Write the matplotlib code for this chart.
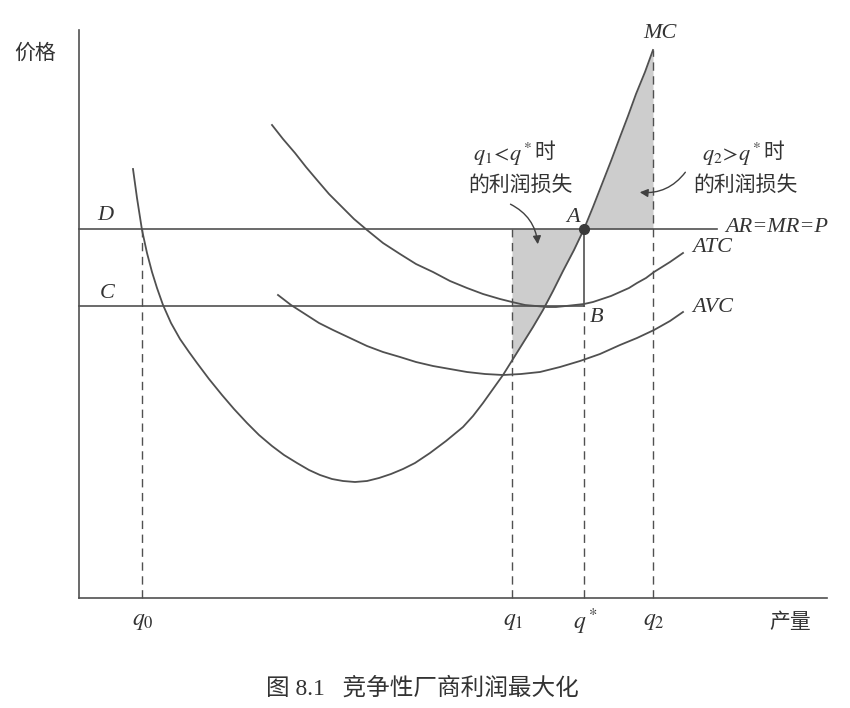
import matplotlib
matplotlib.use("Agg")
import matplotlib.pyplot as plt
import numpy as np

plt.rcParams["mathtext.fontset"] = "stix"
plt.rcParams["font.family"] = ["Liberation Serif", "Noto Sans CJK SC", "DejaVu Sans"]

# quantities on the horizontal axis
q0 = 6.3
q1 = 43.3
q_star = 50.5
q2 = 57.4
# price levels
price = 36.9      # AR = MR = P  (line D)
cost_c = 29.2     # line C (ATC at q*)

# marginal cost curve
mc_q = [5.4, 5.8, 6.3, 6.8, 7.3, 7.8, 8.4, 9.2, 10.1, 11.0, 11.8, 13.0, 14.3, 15.5,
        16.8, 18.0, 19.3, 20.5, 21.8, 23.0, 24.1, 25.3, 26.4, 27.6, 28.8, 30.0, 31.2,
        32.4, 33.6, 35.1, 36.7, 38.4, 39.4, 40.4, 41.4, 42.4, 43.4, 44.4, 45.4, 46.4,
        47.4, 48.4, 49.5, 50.5, 51.4, 52.3, 53.2, 54.1, 54.9, 55.7, 56.6, 57.4]
mc_p = [42.9, 40.0, 36.8, 34.5, 32.6, 31.0, 29.3, 27.5, 25.9, 24.6, 23.5, 21.9, 20.3,
        18.9, 17.5, 16.3, 15.2, 14.3, 13.5, 12.8, 12.3, 11.9, 11.7, 11.6, 11.7, 12.0,
        12.4, 12.9, 13.5, 14.5, 15.7, 17.1, 18.2, 19.5, 20.9, 22.3, 23.9, 25.5, 27.1,
        28.8, 30.7, 32.7, 34.8, 36.9, 39.1, 41.4, 43.7, 46.1, 48.2, 50.4, 52.6, 54.8]

# average total cost
atc_q = [19.3, 20.4, 21.6, 22.7, 23.8, 25.0, 26.3, 27.5, 28.8, 30.4, 32.1, 33.7, 35.4,
         37.1, 38.8, 40.4, 42.1, 43.3, 44.6, 45.7, 46.8, 47.7, 48.7, 49.6, 50.5, 51.4,
         52.3, 53.2, 54.1, 55.0, 55.8, 56.7, 57.5, 58.3, 59.1, 60.4]
atc_p = [47.3, 45.9, 44.5, 43.1, 41.8, 40.4, 39.1, 37.9, 36.8, 35.5, 34.4, 33.4, 32.6,
         31.7, 31.0, 30.4, 29.9, 29.6, 29.3, 29.2, 29.1, 29.1, 29.2, 29.3, 29.4, 29.6,
         29.9, 30.2, 30.6, 31.0, 31.5, 32.0, 32.6, 33.1, 33.6, 34.5]

# average variable cost
avc_q = [19.9, 21.2, 22.6, 24.0, 25.4, 27.1, 28.8, 30.4, 32.1, 33.7, 35.4, 37.1, 38.8,
         40.6, 42.4, 44.2, 46.1, 48.1, 50.1, 52.1, 54.1, 55.8, 57.5, 59.1, 60.4]
avc_p = [30.3, 29.3, 28.4, 27.5, 26.8, 26.0, 25.2, 24.6, 24.1, 23.6, 23.2, 22.9, 22.6,
         22.4, 22.3, 22.4, 22.6, 23.1, 23.7, 24.4, 25.3, 26.0, 26.8, 27.7, 28.6]

x_axis_end = 74.8
y_axis_top = 56.8
p_line_end = 63.8

LINE = "#505050"
TEXT = "#333333"
SHADE = "#cdcdcd"

fig = plt.figure(figsize=(8.5, 7.08), dpi=100)
ax = fig.add_axes([0, 0, 1, 1])
ax.set_xlim(-7.9, 77.1)
ax.set_ylim(-11.0, 59.8)
ax.axis("off")

mc_q_arr = np.array(mc_q)
mc_p_arr = np.array(mc_p)

# shaded profit losses
left = (mc_q_arr > q1) & (mc_q_arr <= q_star)
lq = np.concatenate([[q1], mc_q_arr[left]])
lp = np.concatenate([[np.interp(q1, mc_q_arr, mc_p_arr)], mc_p_arr[left]])
ax.fill_between(lq, lp, price, color=SHADE, lw=0, zorder=1)
right = (mc_q_arr >= q_star) & (mc_q_arr <= q2)
ax.fill_between(mc_q_arr[right], price, mc_p_arr[right], color=SHADE, lw=0, zorder=1)

# axes
ax.plot([0, 0], [0, y_axis_top], color=LINE, lw=1.2, zorder=3)
ax.plot([0, x_axis_end], [0, 0], color=LINE, lw=1.2, zorder=3)

# horizontal lines
ax.plot([0, p_line_end], [price, price], color=LINE, lw=1.2, zorder=3)
ax.plot([0, q_star], [cost_c, cost_c], color=LINE, lw=1.2, zorder=3)

# curves
ax.plot(mc_q, mc_p, color=LINE, lw=1.3, zorder=4)
ax.plot(atc_q, atc_p, color=LINE, lw=1.3, zorder=4)
ax.plot(avc_q, avc_p, color=LINE, lw=1.3, zorder=4)

# verticals
dash = dict(color=LINE, lw=1.0, linestyle=(0, (6, 4)), zorder=2)
ax.plot([q0, q0], [0, price], **dash)
ax.plot([q1, q1], [0, price], **dash)
ax.plot([q_star, q_star], [0, cost_c], **dash)
ax.plot([q2, q2], [0, mc_p[-1]], **dash)
ax.plot([q_star, q_star], [cost_c, price], color=LINE, lw=1.2, zorder=3)
ax.plot([q_star], [price], "o", color="#3a3a3a", ms=7, zorder=5)

# labels
ital = dict(fontsize=16, fontstyle="italic", color=TEXT, family="Liberation Serif")
cjk = dict(fontsize=15, color=TEXT, family="Noto Sans CJK SC")
ax.text(-4.4, 54.5, "价格", ha="center", va="center", **cjk)
ax.text(2.6, 38.3, "D", ha="center", va="center", **ital)
ax.text(2.8, 30.5, "C", ha="center", va="center", **ital)
ax.text(58.1, 56.5, "MC", ha="center", va="center", **ital)
ax.text(64.6, 37.0, "AR=MR=P", ha="left", va="center", **ital)
ax.text(61.3, 35.0, "ATC", ha="left", va="center", **ital)
ax.text(61.3, 29.1, "AVC", ha="left", va="center", **ital)
ax.text(49.4, 38.1, "A", ha="center", va="center", **ital)
ax.text(51.8, 28.0, "B", ha="center", va="center", **ital)

# annotations: math part and the Chinese character drawn side by side
ax.text(45.4, 44.4, "$q_1\\!<\\!q^*$", fontsize=16, color=TEXT, ha="right", va="center")
ax.text(45.5, 44.6, "时", ha="left", va="center", **cjk)
ax.text(44.1, 41.3, "的利润损失", ha="center", va="center", **cjk)
ax.text(68.3, 44.4, "$q_2\\!>\\!q^*$", fontsize=16, color=TEXT, ha="right", va="center")
ax.text(68.4, 44.6, "时", ha="left", va="center", **cjk)
ax.text(66.6, 41.3, "的利润损失", ha="center", va="center", **cjk)

arrow = dict(arrowstyle="-|>", color="#404040", lw=1.0, mutation_scale=12)
ax.annotate("", xy=(45.9, 35.1), xytext=(42.9, 39.5),
            arrowprops=dict(connectionstyle="arc3,rad=-0.3", **arrow))
ax.annotate("", xy=(55.8, 40.6), xytext=(60.8, 42.8),
            arrowprops=dict(connectionstyle="arc3,rad=-0.3", **arrow))

for xq, lab in [(q0, "$q_0$"), (q1, "$q_1$"), (q_star, "$q^*$"), (q2, "$q_2$")]:
    ax.text(xq + 0.1, -2.4, lab, fontsize=17, color=TEXT, ha="center", va="center")
ax.text(71.1, -2.4, "产量", ha="center", va="center", **cjk)

ax.text(34.3, -9.0, "图 8.1   竞争性厂商利润最大化", fontsize=17, color=TEXT,
        ha="center", va="center")

fig.savefig("out.png", dpi=100, facecolor="white")
